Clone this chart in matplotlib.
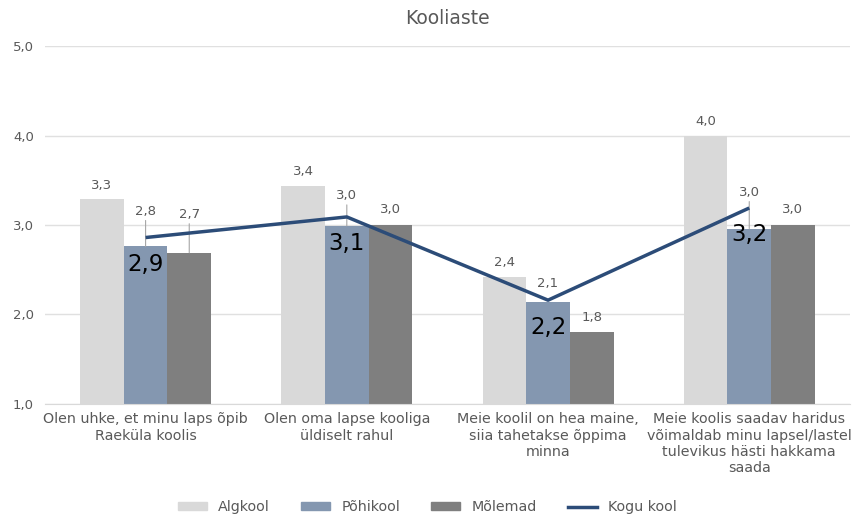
import numpy as np
import matplotlib
matplotlib.use("Agg")
import matplotlib.pyplot as plt
import matplotlib.patches as mpatches
from matplotlib.lines import Line2D

# data
categories = [
    "Olen uhke, et minu laps õpib\nRaeküla koolis",
    "Olen oma lapse kooliga\nüldiselt rahul",
    "Meie koolil on hea maine,\nsiia tahetakse õppima\nminna",
    "Meie koolis saadav haridus\nvõimaldab minu lapsel/lastel\ntulevikus hästi hakkama\nsaada",
]
algkool = [3.29, 3.44, 2.42, 4.00]
pohikool = [2.76, 2.99, 2.14, 2.96]
molemad = [2.69, 3.00, 1.80, 3.00]
kogu_kool = [2.86, 3.09, 2.16, 3.19]
series_names = ["Algkool", "Põhikool", "Mõlemad", "Kogu kool"]

# label lifts (pixels above bar top) - some labels pushed up with leaders
lift_pohi = [35, 30, 18, 36]
lift_mol = [38, 15, 15, 15]

plt.rcParams['font.family'] = ['DejaVu Sans']
txt = '#595959'
c_alg, c_pohi, c_mol, c_line = '#d9d9d9', '#8497b0', '#7f7f7f', '#2c4c78'

fig = plt.figure(figsize=(8.55, 5.17), dpi=100)
ax = fig.add_axes([0.0526, 0.2186, 0.9414, 0.6924])

x = np.arange(len(categories))
w = 0.217
b1 = ax.bar(x - w, np.array(algkool) - 1, w, bottom=1, color=c_alg, zorder=2)
b2 = ax.bar(x, np.array(pohikool) - 1, w, bottom=1, color=c_pohi, zorder=2)
b3 = ax.bar(x + w, np.array(molemad) - 1, w, bottom=1, color=c_mol, zorder=2)
ax.plot(x, kogu_kool, color=c_line, lw=2.5, zorder=4, solid_capstyle='butt')

def fmt(v):
    return f"{v:.1f}".replace('.', ',')

def label_bars(xs, vals, lifts):
    for xi, v, lift in zip(xs, vals, lifts):
        ax.annotate(fmt(v), xy=(xi, v), xytext=(0, lift), textcoords='offset pixels',
                    ha='center', va='center', fontsize=9.5, color=txt, zorder=5)
        if lift > 25:
            ax.annotate('', xy=(xi, v), xytext=(0, lift - 9), textcoords='offset pixels',
                        arrowprops=dict(arrowstyle='-', color='#a6a6a6', lw=0.8,
                                        shrinkA=0, shrinkB=0), zorder=3)

label_bars(x - w, algkool, [14] * 4)
label_bars(x, pohikool, lift_pohi)
label_bars(x + w, molemad, lift_mol)

for xi, v in zip(x, kogu_kool):
    ax.annotate(fmt(v), xy=(xi, v), xytext=(0, -27), textcoords='offset pixels',
                ha='center', va='center', fontsize=16.5, color='black', zorder=6)

ax.set_ylim(1, 5)
ax.set_xlim(-0.5, 3.5)
ax.set_yticks([1, 2, 3, 4, 5])
ax.set_yticklabels([fmt(t) for t in [1, 2, 3, 4, 5]], color=txt, fontsize=9.5)
ax.set_xticks(x)
ax.set_xticklabels(categories, color=txt, fontsize=10.3, linespacing=1.2)
ax.tick_params(length=0, pad=8)
ax.tick_params(axis='x', pad=6)
ax.grid(axis='y', color='#e0e0e0', lw=1, zorder=0)
for s in ['top', 'right', 'left']:
    ax.spines[s].set_visible(False)
ax.spines['bottom'].set_color('#d9d9d9')

ax.set_title("Kooliaste", fontsize=13.5, color=txt, pad=16)

handles = [mpatches.Patch(color=c_alg), mpatches.Patch(color=c_pohi),
           mpatches.Patch(color=c_mol), Line2D([], [], color=c_line, lw=2.5)]
fig.legend(handles, series_names, loc='center', bbox_to_anchor=(0.5, 0.019), ncol=4,
           frameon=False, fontsize=10.3, labelcolor=txt, handlelength=2.0,
           handleheight=0.5, columnspacing=2.2)

fig.savefig("out.png", dpi=100)
